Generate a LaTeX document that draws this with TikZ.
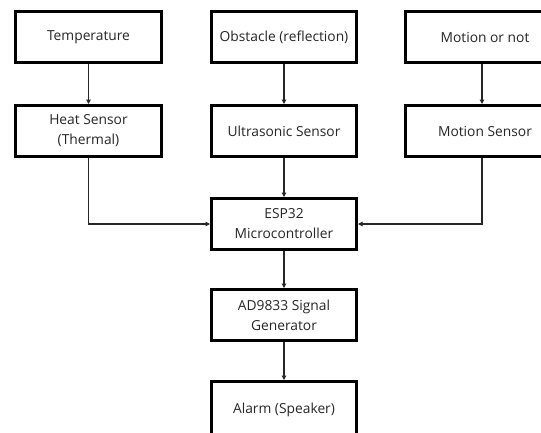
\documentclass[tikz,border=0pt]{standalone}
\usepackage{fontspec}
\setmainfont{Open Sans}
\usetikzlibrary{arrows.meta}
\tikzset{
  blk/.style={draw=black, line width=3pt, rectangle, minimum height=51pt, align=center,
    font=\fontsize{13.8}{20}\selectfont, text=black!85, inner sep=0pt},
  conn/.style={draw=black!85, line width=1.4pt, -{Triangle[length=4.5pt,width=4.5pt]}}
}
\begin{document}
\begin{tikzpicture}[x=1pt,y=-1pt]
\useasboundingbox (0,0) rectangle (541,432);
\clip (0,0) rectangle (541,432);
\fill[white] (0,0) rectangle (541,432);
\node[blk, minimum width=146pt] (temp) at (88.5,37) {Temperature};
\node[blk, minimum width=145pt] (obst) at (284,37) {Obstacle (reflection)};
\node[blk, minimum width=160pt] (motn) at (485,37) {Motion or not};
\node[blk, minimum width=146pt] (heat) at (88.5,131) {Heat Sensor\\(Thermal)};
\node[blk, minimum width=145pt] (ultra) at (284,131) {Ultrasonic Sensor};
\node[blk, minimum width=160pt] (msens) at (485,131) {Motion Sensor};
\node[blk, minimum width=145pt] (esp) at (284,224) {ESP32\\Microcontroller};
\node[blk, minimum width=145pt] (ad) at (284,315) {AD9833 Signal\\Generator};
\node[blk, minimum width=145pt, minimum height=56pt] (alarm) at (284,409.5) {Alarm (Speaker)};
\draw[conn] (temp) -- (heat);
\draw[conn] (obst) -- (ultra);
\draw[conn] ([xshift=-3pt]motn.south) -- ([xshift=-3pt]msens.north);
\draw[conn] (ultra) -- (esp);
\draw[conn] (heat.south) |- (esp.west);
\draw[conn] ([xshift=-3pt]msens.south) |- (esp.east);
\draw[conn] (esp) -- (ad);
\draw[conn] (ad) -- (alarm);
\end{tikzpicture}
\end{document}
